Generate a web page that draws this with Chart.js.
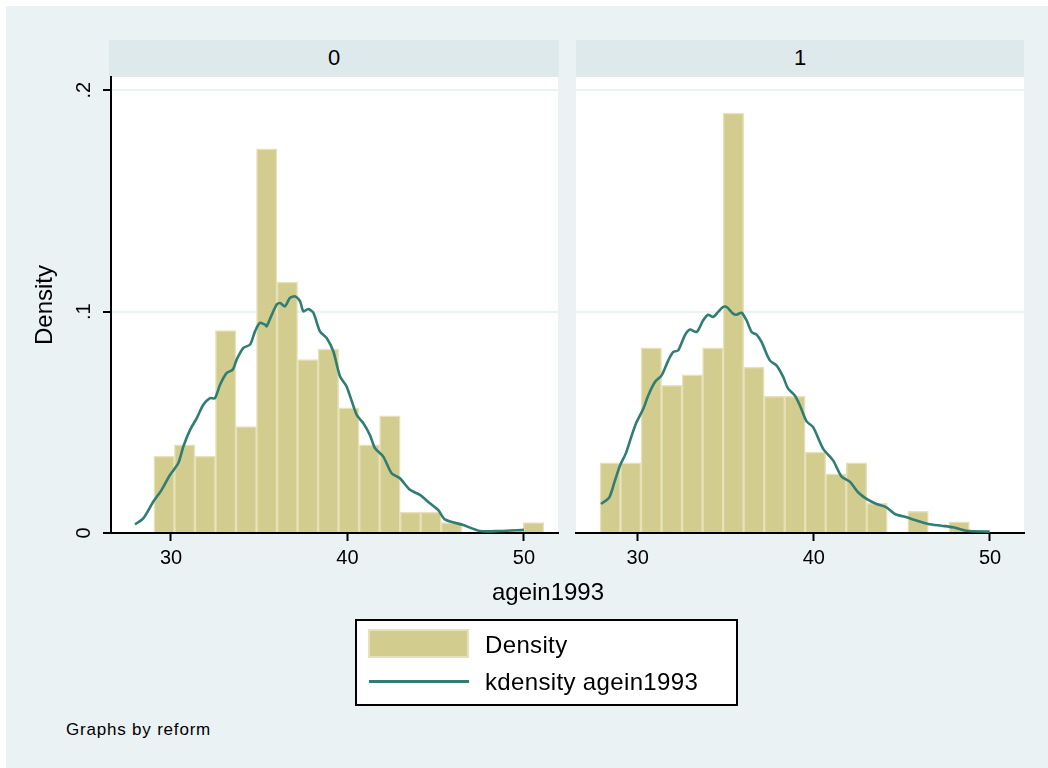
<!DOCTYPE html>
<html>
<head>
<meta charset="utf-8">
<script src="https://cdn.jsdelivr.net/npm/chart.js@4.4.0/dist/chart.umd.min.js"></script>
<style>
  html, body { margin: 0; padding: 0; background: #fff; }
  body { width: 1048px; height: 768px; position: relative; overflow: hidden;
         font-family: "Liberation Sans", Arial, Helvetica, sans-serif; color: #000; }
  #bg { position: absolute; left: 6px; top: 6px; right: 0; bottom: 0; background: #EAF2F3; }
  .strip { position: absolute; top: 40px; height: 37px; background: #DEE9EB;
           font-size: 22px; line-height: 35px; text-align: center; }
  canvas { position: absolute; top: 0; }
  #xtitle { position: absolute; left: 348px; width: 400px; top: 577px; text-align: center;
            font-size: 24px; line-height: 30px; }
  #legend { position: absolute; left: 355px; top: 619px; width: 383px; height: 87px;
            box-sizing: border-box; border: 2px solid #000; background: #fff; }
  #legend .sw-bar { position: absolute; left: 11px; top: 8px; width: 101px; height: 29px;
                    box-sizing: border-box; background: #D3CC8F; border: 2px solid #E6E1B8; }
  #legend .sw-line { position: absolute; left: 12px; top: 59px; width: 100px; height: 3px; background: #2F7D73; }
  #legend .lab { position: absolute; left: 128px; font-size: 24px; line-height: 29px;
                 white-space: nowrap; letter-spacing: 0.35px; }
  #note { position: absolute; left: 66px; top: 720px; font-size: 17px; line-height: 20px; letter-spacing: 0.8px; }
</style>
</head>
<body>
<div id="bg"></div>
<div class="strip" style="left:109px;width:450px;">0</div>
<div class="strip" style="left:576px;width:448px;">1</div>
<canvas id="panel0" width="566" height="580" style="left:0px;"></canvas>
<canvas id="panel1" width="482" height="580" style="left:566px;"></canvas>
<div id="xtitle">agein1993</div>
<div id="legend">
  <div class="sw-bar"></div><div class="lab" style="top:9px;">Density</div>
  <div class="sw-line"></div><div class="lab" style="top:46px;">kdensity agein1993</div>
</div>
<div id="note">Graphs by reform</div>

<script>
// Histogram bins (bin centres) and densities, reform = 0
const binMid0 = [29.612, 30.775, 31.938, 33.101, 34.264, 35.427, 36.590, 37.753,
                 38.916, 40.079, 41.242, 42.405, 43.568, 44.731, 45.894, 50.546];
const density0 = [0.0348, 0.0398, 0.0348, 0.0915, 0.0481, 0.1736, 0.1133, 0.0783,
                  0.0831, 0.0566, 0.0398, 0.0529, 0.0095, 0.0095, 0.0047, 0.0047];

// Histogram bins (bin centres) and densities, reform = 1
const binMid1 = [28.443, 29.608, 30.773, 31.938, 33.103, 34.268, 35.433, 36.598,
                 37.763, 38.928, 40.093, 41.258, 42.423, 43.588, 45.918, 48.248];
const density1 = [0.0317, 0.0317, 0.0836, 0.0667, 0.0715, 0.0836, 0.1897, 0.0750,
                  0.0617, 0.0617, 0.0365, 0.0267, 0.0317, 0.0134, 0.0098, 0.0051];

// Kernel density estimate, reform = 0
const kdeX0 = [27.96, 28.43, 29.00, 29.47, 29.94, 30.41, 30.70, 31.08, 31.46, 31.83, 32.21, 32.49,
               32.78, 33.16, 33.50, 33.72, 34.10, 34.48, 34.76, 35.04, 35.33, 35.42, 35.71, 35.99,
               36.18, 36.46, 36.74, 37.03, 37.31, 37.50, 37.78, 38.07, 38.44, 38.82, 39.20, 39.58,
               39.95, 40.52, 40.90, 41.27, 41.56, 42.03, 42.50, 42.97, 43.54, 44.11, 44.67, 45.14,
               45.52, 46.56, 47.51, 48.64, 50.00];
const kdeY0 = [0.0039, 0.0066, 0.0142, 0.0195, 0.0262, 0.0315, 0.0391, 0.0466, 0.0519, 0.0579, 0.0609, 0.0609,
               0.0670, 0.0723, 0.0738, 0.0783, 0.0836, 0.0851, 0.0911, 0.0949, 0.0941, 0.0934, 0.0986, 0.1032,
               0.1039, 0.1024, 0.1062, 0.1069, 0.1047, 0.1001, 0.1012, 0.0994, 0.0911, 0.0881, 0.0820, 0.0707,
               0.0662, 0.0534, 0.0496, 0.0443, 0.0383, 0.0345, 0.0270, 0.0247, 0.0195, 0.0172, 0.0134, 0.0104,
               0.0062, 0.0036, 0.0009, 0.0009, 0.0014];

// Kernel density estimate, reform = 1
const kdeX1 = [27.92, 28.39, 28.71, 29.00, 29.34, 29.66, 29.94, 30.32, 30.60, 30.98, 31.36, 31.74,
               32.02, 32.30, 32.68, 32.97, 33.35, 33.72, 34.00, 34.29, 34.57, 34.86, 35.05, 35.42,
               35.61, 35.90, 36.18, 36.47, 36.75, 37.03, 37.50, 37.88, 38.26, 38.54, 38.92, 39.21,
               39.59, 39.96, 40.53, 41.10, 41.57, 42.04, 42.51, 42.99, 43.56, 44.12, 44.60, 45.26,
               45.83, 46.49, 47.24, 47.90, 48.66, 49.98];
const kdeY1 = [0.0131, 0.0161, 0.0237, 0.0305, 0.0362, 0.0440, 0.0501, 0.0561, 0.0621, 0.0682, 0.0712, 0.0780,
               0.0818, 0.0825, 0.0893, 0.0919, 0.0908, 0.0961, 0.0986, 0.0976, 0.0999, 0.1021, 0.1021, 0.0991,
               0.0986, 0.0995, 0.0961, 0.0908, 0.0896, 0.0863, 0.0780, 0.0757, 0.0705, 0.0652, 0.0621, 0.0576,
               0.0504, 0.0478, 0.0380, 0.0327, 0.0255, 0.0232, 0.0184, 0.0154, 0.0131, 0.0116, 0.0086, 0.0071,
               0.0056, 0.0041, 0.0033, 0.0026, 0.0010, 0.0006];

// Axis ticks
const xTickValues = [30, 40, 50];
const xTickLabels = ['30', '40', '50'];
const yTickValues = [0, 0.1, 0.2];
const yTickLabels = ['0', '.1', '.2'];

const FONT = '"Liberation Sans", Arial, Helvetica, sans-serif';
Chart.defaults.font.family = FONT;
Chart.defaults.color = '#000';

const BAR_FILL = '#D3CC8F';
const BAR_EDGE = '#E6E1B8';
const KDE_COLOR = '#2F7D73';
const GRID = '#EAF2F3';

// white plot region behind the marks
const plotFill = {
  id: 'plotFill',
  beforeDraw(chart) {
    const { ctx, chartArea: a } = chart;
    ctx.save();
    ctx.fillStyle = '#fff';
    ctx.fillRect(a.left, a.top, a.right - a.left, a.bottom - a.top);
    ctx.restore();
  }
};

function makePanel(id, mids, dens, kx, ky, withYAxis, xMin, xMax, padRight) {
  const bars = mids.map((m, i) => ({ x: m, y: dens[i] }));
  const curve = kx.map((v, i) => ({ x: v, y: ky[i] }));

  const yScale = {
    min: 0,
    max: 0.206,
    afterBuildTicks: s => { s.ticks = yTickValues.map(v => ({ value: v })); },
    afterFit: s => { s.width = withYAxis ? 111 : 10; },
    grid: { color: GRID, lineWidth: 2, drawTicks: withYAxis, tickColor: '#000', tickWidth: 2, tickLength: 8 },
    border: { display: withYAxis, color: '#000', width: 2 },
    ticks: {
      display: withYAxis,
      minRotation: 90, maxRotation: 90,
      crossAlign: 'center',
      padding: 10,
      font: { size: 20 },
      color: '#000',
      callback: (v, i) => yTickLabels[i]
    },
    title: {
      display: withYAxis,
      text: 'Density',
      font: { size: 24 },
      color: '#000',
      padding: { top: 31, bottom: 0 }
    }
  };

  return new Chart(document.getElementById(id), {
    type: 'bar',
    data: {
      datasets: [
        {
          type: 'line',
          label: 'kdensity agein1993',
          data: curve,
          borderColor: KDE_COLOR,
          borderWidth: 2.6,
          pointRadius: 0,
          tension: 0.25,
          fill: false,
          order: 0
        },
        {
          type: 'bar',
          label: 'Density',
          data: bars,
          backgroundColor: BAR_FILL,
          borderColor: BAR_EDGE,
          borderWidth: 1.5,
          barPercentage: 1,
          categoryPercentage: 1,
          order: 1
        }
      ]
    },
    options: {
      responsive: false,
      animation: false,
      devicePixelRatio: 1,
      layout: { padding: { left: 0, top: 77, right: padRight, bottom: 7 } },
      plugins: { legend: { display: false }, tooltip: { enabled: false } },
      scales: {
        x: {
          type: 'linear',
          min: xMin,
          max: xMax,
          offset: false,
          z: 1,
          afterBuildTicks: s => { s.ticks = xTickValues.map(v => ({ value: v })); },
          afterFit: s => { s.height = 40; },
          grid: { display: true, offset: false, drawOnChartArea: false, drawTicks: true,
                  tickLength: 8, tickColor: '#000', tickWidth: 2 },
          border: { display: true, color: '#000', width: 2 },
          ticks: { font: { size: 20 }, color: '#000', padding: 5, maxRotation: 0,
                   callback: (v, i) => xTickLabels[i] }
        },
        y: yScale
      }
    },
    plugins: [plotFill]
  });
}

makePanel('panel0', binMid0, density0, kdeX0, kdeY0, true, 26.6, 51.93, 8);
makePanel('panel1', binMid1, density1, kdeX1, kdeY1, false, 26.5, 51.93, 24);
</script>
</body>
</html>
